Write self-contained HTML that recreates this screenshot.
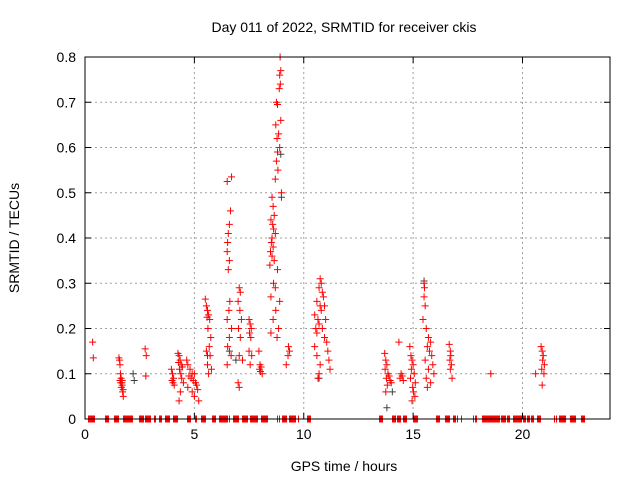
<!DOCTYPE html>
<html><head><meta charset="utf-8"><style>
html,body{margin:0;padding:0;background:#fff}
svg text{font-family:"Liberation Sans",sans-serif;font-size:14px;fill:#000}
</style></head><body>
<svg id="chart" width="640" height="480" viewBox="0 0 640 480" xmlns="http://www.w3.org/2000/svg">
<rect x="0" y="0" width="640" height="480" fill="#fff"/>
<g id="grid"></g>
<g id="zeros"></g>
<g id="pts"></g>
<rect x="85" y="57" width="525" height="362" fill="none" stroke="#000" stroke-width="1"/>
<g id="ticks"></g>
<text x="344" y="32" text-anchor="middle">Day 011 of 2022, SRMTID for receiver ckis</text>
<text x="344" y="471" text-anchor="middle">GPS time / hours</text>
<text transform="translate(19,238) rotate(-90)" text-anchor="middle">SRMTID / TECUs</text>
</svg>
<script>
const xTicks=[0,5,10,15,20];
const yTicks=[0,0.1,0.2,0.3,0.4,0.5,0.6,0.7,0.8];
const yLabels=["0","0.1","0.2","0.3","0.4","0.5","0.6","0.7","0.8"];
const redHours=[0.35,0.38,
1.55,1.58,1.6,1.62,1.65,1.6,1.68,1.63,1.7,1.66,1.72,1.75,1.7,1.74,
2.75,2.8,2.78,
3.95,4.0,4.05,3.98,4.02,4.08,
4.25,4.3,4.35,4.28,4.4,4.45,4.32,4.38,4.42,4.5,4.36,4.3,
4.65,4.7,4.8,4.9,5.0,4.75,4.85,4.95,5.05,5.1,4.7,5.15,4.9,5.0,5.2,
5.5,5.55,5.6,5.65,5.58,5.7,5.62,5.75,5.68,5.55,5.72,5.6,5.78,5.65,
6.5,6.7,6.65,6.6,6.55,6.52,6.5,6.6,6.55,6.62,6.58,6.5,6.7,6.6,6.52,6.68,6.5,7.0,7.05,
7.05,7.1,7.0,7.08,7.15,7.02,7.1,7.05,7.2,
7.5,7.55,7.6,7.52,7.58,7.5,7.62,7.55,
7.95,8.0,8.05,7.98,8.02,8.1,
8.92,8.95,8.9,8.93,8.88,8.75,8.8,8.95,8.72,8.85,8.78,8.9,8.8,8.75,8.82,8.7,8.98,8.55,8.6,8.65,8.5,8.58,8.62,8.7,8.55,8.52,8.6,8.48,8.55,8.65,8.45,8.8,8.62,8.7,8.5,8.9,8.72,8.6,8.85,8.5,8.78,9.2,
9.3,9.35,9.28,
10.75,10.8,10.7,10.85,10.9,10.6,10.75,10.95,10.8,10.5,10.65,11.0,10.7,10.55,10.85,10.6,10.95,11.05,10.5,11.1,10.6,11.15,10.75,11.2,10.7,10.65,
13.7,13.75,13.8,13.72,13.85,13.9,13.78,13.95,14.0,13.82,13.75,
14.35,14.45,14.5,14.4,14.55,
14.85,14.9,14.95,15.0,14.92,15.05,14.88,15.1,14.98,15.02,15.08,14.95,
15.5,15.52,15.5,15.55,15.45,15.6,15.7,15.8,15.65,15.75,15.85,15.55,15.9,15.7,15.95,15.6,15.8,15.65,
16.65,16.7,16.72,16.68,16.75,16.7,16.78,
18.55,20.6,
20.85,20.9,20.95,20.92,21.0,20.88,20.98,20.9];
const redValues=[0.17,0.135,
0.135,0.13,0.12,0.10,0.09,0.085,0.08,0.08,0.075,0.07,0.06,0.05,0.085,0.065,
0.155,0.14,0.095,
0.11,0.10,0.09,0.085,0.08,0.075,
0.145,0.14,0.13,0.125,0.12,0.115,0.11,0.10,0.09,0.08,0.06,0.04,
0.13,0.12,0.11,0.10,0.10,0.095,0.09,0.085,0.08,0.075,0.07,0.065,0.06,0.05,0.04,
0.265,0.25,0.24,0.23,0.225,0.22,0.2,0.18,0.16,0.15,0.14,0.12,0.11,0.10,
0.525,0.535,0.46,0.43,0.41,0.39,0.37,0.35,0.33,0.26,0.24,0.22,0.2,0.18,0.16,0.14,0.12,0.08,0.07,
0.29,0.28,0.26,0.24,0.22,0.2,0.18,0.14,0.13,
0.22,0.21,0.2,0.19,0.18,0.15,0.14,0.12,
0.15,0.12,0.115,0.11,0.105,0.10,
0.8,0.77,0.76,0.74,0.73,0.7,0.695,0.66,0.65,0.63,0.62,0.6,0.59,0.57,0.55,0.53,0.5,0.49,0.47,0.45,0.44,0.43,0.42,0.41,0.4,0.39,0.38,0.37,0.36,0.35,0.34,0.33,0.3,0.29,0.27,0.26,0.24,0.22,0.2,0.19,0.18,0.12,
0.16,0.15,0.14,
0.31,0.3,0.29,0.28,0.27,0.26,0.25,0.25,0.24,0.23,0.22,0.22,0.21,0.2,0.2,0.19,0.18,0.17,0.16,0.15,0.14,0.13,0.12,0.11,0.10,0.09,
0.145,0.13,0.12,0.11,0.10,0.095,0.09,0.085,0.08,0.075,0.06,
0.17,0.10,0.095,0.09,0.085,
0.16,0.14,0.13,0.12,0.11,0.10,0.09,0.08,0.07,0.06,0.05,0.04,
0.3,0.29,0.27,0.25,0.22,0.2,0.18,0.17,0.16,0.15,0.14,0.13,0.12,0.11,0.10,0.09,0.08,0.07,
0.165,0.15,0.14,0.13,0.12,0.11,0.09,
0.10,0.10,
0.16,0.15,0.14,0.13,0.12,0.11,0.10,0.075];
const grayHours=[2.2,2.25,5.6,6.6,6.9,8.95,8.98,10.7,14.05,15.5,13.8];
const grayValues=[0.1,0.085,0.14,0.15,0.13,0.585,0.49,0.09,0.06,0.305,0.025];
const zeroStart=[0.137,0.914,1.326,1.737,2.469,2.743,3.154,3.383,3.657,4.023,4.663,5.029,5.303,5.806,6.126,6.583,6.766,7.177,7.543,8.046,8.777,8.869,9.006,9.326,9.737,10.149,
13.44,14.034,14.263,14.537,14.994,16.046,16.457,16.823,17.006,17.189,17.737,17.829,18.149,19.017,19.291,19.566,20.023,20.206,20.389,20.663,21.44,21.531,21.669,22.171,22.674];
const zeroEnd=[0.457,1.097,1.554,2.194,2.697,3.017,3.246,3.52,3.886,4.251,4.846,5.12,5.531,5.989,6.537,6.629,7.04,7.451,7.909,8.366,8.823,8.914,9.234,9.646,9.783,10.331,
13.623,14.217,14.446,14.72,15.223,16.229,16.686,16.96,17.051,17.234,17.783,17.92,18.971,19.246,19.429,19.977,20.16,20.343,20.526,20.846,21.486,21.577,21.989,22.446,22.857];

const X0=85,X1=610,Y0=419,Y1=57,XMAX=24,YMAX=0.8;
const xs=h=>X0+(X1-X0)*h/XMAX;
const ys=v=>Y0-(Y0-Y1)*v/YMAX;
const NS="http://www.w3.org/2000/svg";
function mk(tag,parent,attrs){const e=document.createElementNS(NS,tag);for(const k in attrs)e.setAttribute(k,attrs[k]);parent.appendChild(e);return e;}
const grid=document.getElementById('grid'),ticks=document.getElementById('ticks');
xTicks.forEach(t=>{const x=xs(t);
 if(t>0&&t<XMAX){const g=mk('line',grid,{x1:x,x2:x,y1:Y1,y2:Y0,stroke:'#a0a0a0','stroke-dasharray':'2,3'});
 
 }
 mk('line',ticks,{x1:x,x2:x,y1:Y0,y2:Y0-6,stroke:'#000'});
 mk('line',ticks,{x1:x,x2:x,y1:Y1,y2:Y1+6,stroke:'#000'});
 const l=mk('text',ticks,{x:x,y:Y0+20,'text-anchor':'middle'});l.textContent=t;
 
 
});
yTicks.forEach((t,i)=>{const y=ys(t);
 if(t>0&&t<YMAX){const g=mk('line',grid,{x1:X0,x2:X1,y1:y,y2:y,stroke:'#a0a0a0','stroke-dasharray':'2,3'});
 
 }
 mk('line',ticks,{x1:X0,x2:X0+6,y1:y,y2:y,stroke:'#000'});
 mk('line',ticks,{x1:X1,x2:X1-6,y1:y,y2:y,stroke:'#000'});
 const l=mk('text',ticks,{x:X0-9,y:y+5,'text-anchor':'end'});l.textContent=yLabels[i];
 
 
});
const pts=document.getElementById('pts'),zeros=document.getElementById('zeros');
function plus(parent,h,v,color,name){const x=xs(h),y=ys(v);
 const p=mk('path',parent,{d:`M${x-3.5},${y}h7M${x},${y-3.5}v7`,stroke:color,'stroke-width':1,fill:'none'});
 
 }
grayHours.forEach((h,i)=>plus(pts,h,grayValues[i],'#404040','gray-point'));
redHours.forEach((h,i)=>plus(pts,h,redValues[i],'#ff0000','red-point'));
zeroStart.forEach((s,i)=>{const a=xs(s),b=Math.max(xs(zeroEnd[i]),a+1);
 const r=mk('rect',zeros,{x:a,y:Y0-3.5,width:b-a,height:7,fill:'#ff0000'});
 
 });
</script>
</body></html>
